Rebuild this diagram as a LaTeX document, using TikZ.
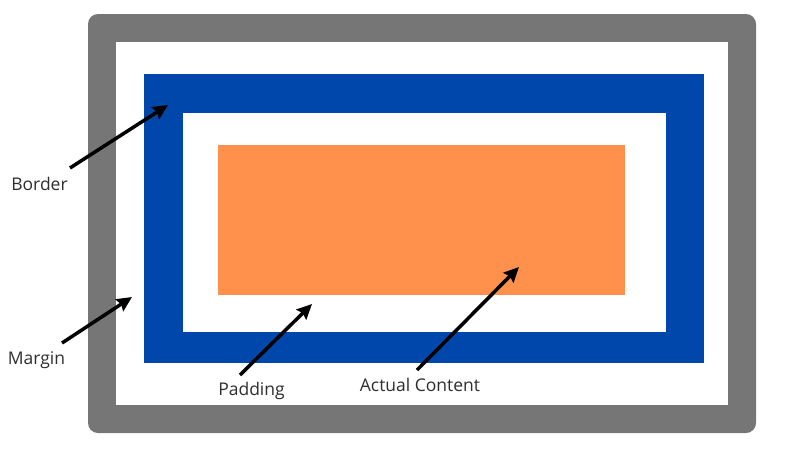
\documentclass[tikz,border=0pt]{standalone}
\usepackage{fontspec}
\setmainfont{Open Sans}
\usetikzlibrary{arrows.meta}
\definecolor{marginGray}{HTML}{767676}
\definecolor{borderBlue}{HTML}{0047AB}
\definecolor{contentOrange}{HTML}{FF914D}
\definecolor{labelGray}{HTML}{2E2E2E}

\begin{document}
\begin{tikzpicture}[x=1pt,y=-1pt]
\useasboundingbox (0,0) rectangle (800,448);

% the box layers
\fill [marginGray, rounded corners=10pt] (88,14) rectangle (756,433);
\fill [white] (116,42) rectangle (728,405);
\fill [borderBlue] (144,74) rectangle (704,363);
\fill [white] (183,113) rectangle (666,332);
\fill [contentOrange] (218,145) rectangle (625,295);

\begin{scope}[every node/.style={anchor=base,text=labelGray,font=\fontsize{17.5}{20}\selectfont}]
    \node (border) at (39.5,190) {Border};
    \node (margin) at (36.5,364) {Margin};
    \node (padding) at (251.5,395) {Padding};
    \node (content) at (420,391) {Actual Content};
\end{scope}

\coordinate (borderTail) at (70,168);
\coordinate (borderTip) at (168,105);
\coordinate (marginTail) at (62,343);
\coordinate (marginTip) at (132,297);
\coordinate (paddingTail) at (240,375);
\coordinate (paddingTip) at (312,304);
\coordinate (contentTail) at (417,370);
\coordinate (contentTip) at (519,267);

\begin{scope}[>={Stealth[black,length=15pt,width=14pt,inset=2pt]},
              every edge/.style={draw=black,line width=3.5pt}]
    \path [->] (borderTail) edge (borderTip);
    \path [->] (marginTail) edge (marginTip);
    \path [->] (paddingTail) edge (paddingTip);
    \path [->] (contentTail) edge (contentTip);
\end{scope}
\end{tikzpicture}
\end{document}
